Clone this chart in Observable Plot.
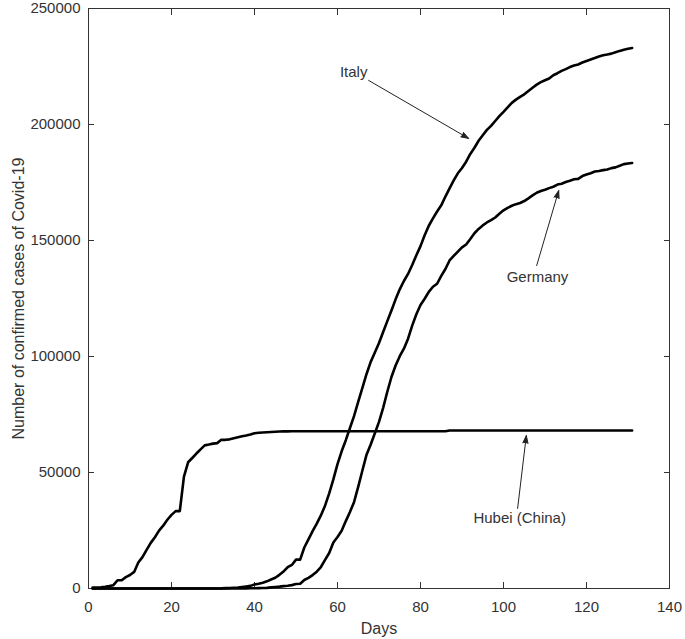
<!DOCTYPE html>
<html>
<head>
<meta charset="utf-8">
<script src="https://cdn.jsdelivr.net/npm/d3@7"></script>
<script src="https://cdn.jsdelivr.net/npm/@observablehq/plot@0.6"></script>
<style>
  html, body { margin: 0; padding: 0; background: #fff; }
  #chart svg { display: block; }
</style>
</head>
<body>
<div id="chart"></div>
<script>
// ---- Data ----
const days = d3.range(1, 132); // day 1 .. 131

const hubei = [
  444,444,549,761,1058,1423,3554,3554,4903,5806,
  7153,11177,13522,16678,19665,22112,24953,27100,29631,31728,
  33366,33366,48206,54406,56249,58182,59989,61682,62031,62442,
  62662,64084,64084,64287,64786,65187,65596,65914,66337,66907,
  67103,67217,67332,67466,67592,67666,67707,67743,67760,67773,
  67781,67786,67790,67794,67798,67799,67800,67800,67800,67800,
  67800,67800,67801,67801,67801,67801,67801,67801,67801,67802,
  67802,67802,67802,67802,67803,67803,67803,67803,67803,67803,
  67803,67803,67803,67803,67803,67803,
  68128,68128,68128,68128,68128,68128,68128,68128,68128,68128,
  68128,68128,68128,68128,68128,68128,68128,68128,68128,68128,
  68128,68128,68128,68128,68128,68128,68128,68128,68128,68128,
  68128,68128,68128,68128,68128,68128,68128,68128,68128,68128,
  68134,68134,68134,68134,68134
];

const italy = [
  0,0,0,0,0,0,0,0,0,2,
  2,2,2,2,2,2,3,3,3,3,
  3,3,3,3,3,3,3,3,3,3,
  20,62,155,229,322,453,655,888,1128,1694,
  2036,2502,3089,3858,4636,5883,7375,9172,10149,12462,
  12462,17660,21157,24747,27980,31506,35713,41035,47021,53578,
  59138,63927,69176,74386,80589,86498,92472,97689,101739,105792,
  110574,115242,119827,124632,128948,132547,135586,139422,143626,147577,
  152271,156363,159516,162488,165155,168941,172434,175925,178972,181228,
  183957,187327,189973,192994,195351,197675,199414,201505,203591,205463,
  207428,209328,210717,211938,213013,214457,215858,217185,218268,219070,
  219814,221216,222104,223096,223885,224760,225435,225886,226699,227364,
  228006,228658,229327,229858,230158,230555,231139,231732,232248,232664,232997
];

const germany = [
  0,0,0,0,0,1,4,4,4,5,
  8,10,12,12,12,12,13,13,14,14,
  16,16,16,16,16,16,16,16,16,16,
  16,16,16,16,17,27,46,48,79,130,
  159,196,262,482,670,799,1040,1176,1457,1908,
  2078,3675,4585,5795,7272,9257,12327,15320,19848,22213,
  24873,29056,32986,37323,43938,50871,57695,62095,66885,71808,
  77872,84794,91159,96092,100123,103374,107663,113296,118181,122171,
  124908,127854,130072,131359,134753,137698,141397,143342,145184,147065,
  148291,150648,153129,154999,156513,157770,158758,159912,161539,163009,
  164077,164967,165664,166152,167007,168162,169430,170588,171324,171879,
  172576,173171,174098,174478,175233,175752,176369,176551,177778,178473,
  179021,179710,179986,180328,180600,181200,181524,182196,182922,183189,183410
];

const xTicks = [0, 20, 40, 60, 80, 100, 120, 140];
const yTicks = [0, 50000, 100000, 150000, 200000, 250000];
const xLabel = "Days";
const yLabel = "Number of confirmed cases of Covid-19";

// annotations
const annLabels = ["Italy", "Germany", "Hubei (China)"];
const annTextX  = [63.9, 108.2, 103.9];
const annTextY  = [222400, 134100, 30200];
const arrowX1   = [67.5, 108.0, 103.4];
const arrowY1   = [219000, 139200, 34500];
const arrowX2   = [91.6, 113.3, 105.5];
const arrowY2   = [194000, 171500, 65900];

// ---- Build tables ----
const series = [
  {name: "Hubei (China)", values: hubei},
  {name: "Italy", values: italy},
  {name: "Germany", values: germany}
];
const rows = series.flatMap(s => days.map((d, i) => ({day: d, value: s.values[i], region: s.name})));
const ann = annLabels.map((t, i) => ({
  text: t, tx: annTextX[i], ty: annTextY[i],
  x1: arrowX1[i], y1: arrowY1[i], x2: arrowX2[i], y2: arrowY2[i]
}));

const fmt = d => String(d);

const chart = Plot.plot({
  width: 685,
  height: 639,
  marginLeft: 88,
  marginRight: 16,
  marginTop: 8,
  marginBottom: 51,
  style: {
    fontFamily: "'Liberation Sans', Arial, Helvetica, sans-serif",
    fontSize: "15px",
    color: "#333",
    background: "#fff"
  },
  x: {domain: [0, 140]},
  y: {domain: [0, 250000]},
  marks: [
    Plot.frame({stroke: "#333", strokeWidth: 1}),
    Plot.axisX({ticks: xTicks, tickSize: -6, tickPadding: 19, tickFormat: fmt, label: null, fontSize: 15}),
    Plot.axisX({anchor: "top", ticks: xTicks, tickSize: -6, tickFormat: () => "", label: null}),
    Plot.axisY({ticks: yTicks, tickSize: -6, tickPadding: 14, tickFormat: fmt, label: null, fontSize: 15}),
    Plot.axisY({anchor: "right", ticks: yTicks, tickSize: -6, tickFormat: () => "", label: null}),
    Plot.text([xLabel], {frameAnchor: "bottom", textAnchor: "middle", lineAnchor: "middle", dy: 40, fontSize: 16, fill: "#333"}),
    Plot.text([yLabel], {frameAnchor: "left", textAnchor: "middle", lineAnchor: "middle", rotate: -90, dx: -70, fontSize: 16, fill: "#333"}),
    Plot.line(rows, {x: "day", y: "value", z: "region", stroke: "black", strokeWidth: 2.6, curve: "linear"}),
    Plot.arrow(ann, {x1: "x1", y1: "y1", x2: "x2", y2: "y2", stroke: "#222", fill: "#222",
      strokeWidth: 1, headLength: 12, headAngle: 38}),
    Plot.text(ann, {x: "tx", y: "ty", text: "text", fontSize: 15, fill: "#333"})
  ]
});

document.getElementById("chart").appendChild(chart);
</script>
</body>
</html>
